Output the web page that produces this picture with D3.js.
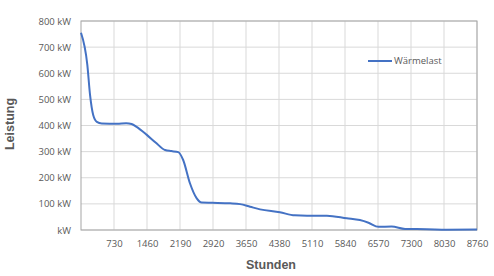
<!DOCTYPE html>
<html><head><meta charset="utf-8">
<script src="https://cdn.jsdelivr.net/npm/d3@7"></script>
<style>html,body{margin:0;padding:0;background:#fff;}svg{display:block;}</style>
</head><body>
<svg id="chart" width="494" height="276"></svg>
<script>
const hours = [0,140,200,270,350,460,800,1000,1120,1230,1450,1650,1860,2000,2150,2260,2410,2560,2670,2900,3300,3520,3740,3960,4400,4730,5000,5440,5880,6170,6360,6580,6870,7170,7650,8090,8760];
const load  = [755,632,517,440,414,408,407,409,406,395,365,335,306,302,298,268,179,121,105,104,102,99,89,79,68,56,55,55,45,38,28,12,13,4,3,1,2];
const xTicks = [730,1460,2190,2920,3650,4380,5110,5840,6570,7300,8030,8760];
const yTicks = [0,100,200,300,400,500,600,700,800];
const seriesName = "Wärmelast";

const svg = d3.select("#chart");
const L = 81, R = 477, T = 21, B = 230;
const x = d3.scaleLinear().domain([0,8760]).range([L,R]);
const y = d3.scaleLinear().domain([0,800]).range([B,T]);
const font = "'Open Sans', 'Liberation Sans', sans-serif";
const txt = "#595959";

// grid
svg.append("g").selectAll("line").data(yTicks).join("line")
  .attr("x1",L).attr("x2",R).attr("y1",d=>y(d)).attr("y2",d=>y(d))
  .attr("stroke","#d9d9d9").attr("stroke-width",1);
svg.append("g").selectAll("line").data(xTicks).join("line")
  .attr("y1",T).attr("y2",B).attr("x1",d=>x(d)).attr("x2",d=>x(d))
  .attr("stroke","#d9d9d9").attr("stroke-width",1);
// border
svg.append("rect").attr("x",L).attr("y",T).attr("width",R-L).attr("height",B-T)
  .attr("fill","none").attr("stroke","#a6a6a6").attr("stroke-width",1);

// axes
const yAxis = d3.axisLeft(y).tickValues(yTicks).tickSize(0).tickPadding(10)
  .tickFormat(d => d===0 ? "kW" : d + " kW");
const gy = svg.append("g").attr("transform",`translate(${L},0)`).call(yAxis);
gy.select(".domain").remove();
gy.selectAll("text").attr("font-family",font).attr("font-size","9.5px").attr("fill",txt);

const xAxis = d3.axisBottom(x).tickValues(xTicks).tickSize(0).tickPadding(10).tickFormat(d3.format("d"));
const gx = svg.append("g").attr("transform",`translate(0,${B})`).call(xAxis);
gx.select(".domain").remove();
gx.selectAll("text").attr("font-family",font).attr("font-size","9.5px").attr("fill",txt);

// line
const data = hours.map((h,i)=>({h, v: load[i]}));
svg.append("path").datum(data)
  .attr("fill","none").attr("stroke","#4472C4").attr("stroke-width",2)
  .attr("d", d3.line().x(d=>x(d.h)).y(d=>y(d.v)).curve(d3.curveMonotoneX));

// legend
svg.append("line").attr("x1",368).attr("x2",392).attr("y1",61).attr("y2",61)
  .attr("stroke","#4472C4").attr("stroke-width",2);
svg.append("text").attr("x",394).attr("y",61).attr("dy","0.35em")
  .attr("font-family",font).attr("font-size","9.5px").attr("fill",txt).text(seriesName);

// titles
svg.append("text").attr("x",271).attr("y",265).attr("dy","0.35em").attr("text-anchor","middle")
  .attr("font-family","'Liberation Sans', Arial, sans-serif").attr("font-weight","bold")
  .attr("font-size","12.5px").attr("fill",txt).text("Stunden");
svg.append("text").attr("transform","translate(10,124) rotate(-90)").attr("dy","0.35em")
  .attr("text-anchor","middle")
  .attr("font-family","'Liberation Sans', Arial, sans-serif").attr("font-weight","bold")
  .attr("font-size","12.5px").attr("fill",txt).text("Leistung");
</script>
</body></html>
